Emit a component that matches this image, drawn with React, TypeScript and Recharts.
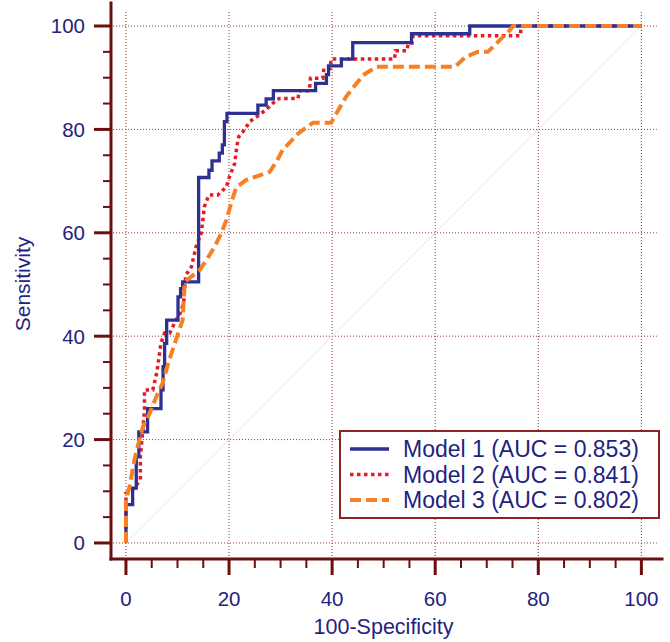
import React from 'react';
import {
  LineChart,
  Line,
  XAxis,
  YAxis,
  ReferenceLine,
  Legend
} from 'recharts';

// ROC coordinates (100-Specificity, Sensitivity)
const model1Fpr = [0, 0, 1.3, 1.3, 2.0, 2.0, 2.5, 2.5, 4.2, 4.2, 6.8, 6.8, 7.2, 7.2, 7.5, 7.5, 7.9, 7.9, 10.1, 10.1, 10.6, 10.6, 11.0, 11.0, 14.1, 14.1, 16.1, 16.1, 16.7, 16.7, 18.1, 18.1, 18.7, 18.7, 19.1, 19.1, 19.6, 19.6, 25.6, 25.6, 27.2, 27.2, 28.6, 28.6, 36.8, 36.8, 38.9, 38.9, 39.3, 39.3, 41.8, 41.8, 44.0, 44.0, 55.4, 55.4, 66.7, 66.7, 100];
const model1Tpr = [0, 7.4, 7.4, 10.6, 10.6, 16.7, 16.7, 21.5, 21.5, 26.0, 26.0, 29.6, 29.6, 34.1, 34.1, 38.6, 38.6, 43.1, 43.1, 47.6, 47.6, 49.2, 49.2, 50.5, 50.5, 70.7, 70.7, 72.1, 72.1, 73.9, 73.9, 75.4, 75.4, 77.0, 77.0, 81.5, 81.5, 83.1, 83.1, 84.7, 84.7, 85.9, 85.9, 87.5, 87.5, 88.9, 88.9, 90.6, 90.6, 92.3, 92.3, 93.6, 93.6, 96.8, 96.8, 98.5, 98.5, 100, 100];

const model2Fpr = [0, 0, 1.5, 2.8, 2.8, 3.2, 3.6, 3.6, 5.2, 6.0, 6.8, 7.5, 8.5, 9.7, 10.5, 11.2, 11.6, 12.7, 13.6, 14.6, 15.0, 15.2, 16.1, 17.8, 19.5, 20.1, 21.1, 21.5, 21.9, 23.0, 24.0, 25.9, 27.5, 29.2, 29.8, 33.4, 33.6, 35.6, 35.8, 38.2, 38.4, 39.6, 39.8, 52.1, 52.3, 54.5, 54.8, 55.5, 55.7, 76.5, 76.7, 100];
const model2Tpr = [0, 9.6, 10.5, 12.2, 16.7, 21.0, 25.7, 29.6, 29.6, 33.0, 38.7, 40.6, 40.6, 43.1, 44.4, 46.5, 51.8, 53.4, 57.3, 59.9, 63.1, 65.0, 67.3, 67.3, 68.9, 70.9, 73.4, 76.7, 78.6, 79.9, 81.5, 82.8, 84.1, 85.7, 86.0, 86.0, 87.5, 87.5, 89.9, 89.9, 91.8, 91.8, 93.6, 93.6, 95.2, 95.2, 96.7, 96.7, 98.1, 98.1, 100, 100];

const model3Fpr = [0, 0, 0.7, 1.65, 2.6, 3.3, 4.6, 5.9, 7.1, 8.4, 9.7, 11.0, 11.4, 14.3, 15.6, 17.2, 18.5, 19.5, 20.4, 21.4, 23.3, 27.9, 29.2, 30.4, 33.4, 36.3, 39.8, 42.7, 46.0, 48.6, 63.8, 66.0, 68.3, 70.2, 74.5, 75.1, 100];
const model3Tpr = [0, 8.3, 10.9, 16.1, 19.9, 22.5, 25.1, 28.3, 30.9, 35.4, 39.3, 43.1, 50.5, 52.8, 54.7, 57.3, 59.9, 62.5, 65.7, 68.8, 70.2, 71.8, 73.8, 76.0, 79.2, 81.3, 81.3, 86.3, 90.5, 92.1, 92.1, 94.1, 95.0, 95.0, 99.2, 100, 100];

const modelNames = ['Model 1 (AUC = 0.853)', 'Model 2 (AUC = 0.841)', 'Model 3 (AUC = 0.802)'];

const X_TICKS = [0, 5, 10, 15, 20, 25, 30, 35, 40, 45, 50, 55, 60, 65, 70, 75, 80, 85, 90, 95, 100];
const Y_TICKS = [0, 5, 10, 15, 20, 25, 30, 35, 40, 45, 50, 55, 60, 65, 70, 75, 80, 85, 90, 95, 100];
const GRID_VALUES = [0, 20, 40, 60, 80, 100];

const AXIS = '#6d0e0e';
const GRID = '#8e3434';
const TEXT = '#1f2380';

const toPoints = (xs: number[], ys: number[]) => xs.map((x, i) => ({ x, y: ys[i] }));

const SERIES = [
  { name: modelNames[0], data: toPoints(model1Fpr, model1Tpr), color: '#2e3192', width: 3.3, dash: undefined },
  { name: modelNames[1], data: toPoints(model2Fpr, model2Tpr), color: '#e31b23', width: 3.5, dash: '3.5 3.5' },
  { name: modelNames[2], data: toPoints(model3Fpr, model3Tpr), color: '#f58025', width: 4, dash: '11 5' }
];

const YTick = (props: any) => {
  const { x, y, payload } = props;
  const major = payload.value % 20 === 0;
  return (
    <g>
      <line x1={x - (major ? 17 : 8)} x2={x} y1={y} y2={y} stroke={AXIS} strokeWidth={major ? 3 : 2} />
      {major && (
        <text x={x - 26} y={y} dy="0.36em" textAnchor="end" fill={TEXT} fontSize={20.5}>
          {payload.value}
        </text>
      )}
    </g>
  );
};

const XTick = (props: any) => {
  const { x, y, payload } = props;
  const major = payload.value % 20 === 0;
  return (
    <g>
      <line x1={x} x2={x} y1={y} y2={y + (major ? 16 : 9)} stroke={AXIS} strokeWidth={major ? 3 : 2} />
      {major && (
        <text x={x} y={y + 40} dy="0.36em" textAnchor="middle" fill={TEXT} fontSize={20.5}>
          {payload.value}
        </text>
      )}
    </g>
  );
};

const LegendBox = () => (
  <div style={{ width: 321, height: 89, boxSizing: 'border-box', border: '2px solid #8b2323', background: '#fff', position: 'relative' }}>
    <svg width={321} height={89} style={{ position: 'absolute', left: -2, top: -2 }}>
      {SERIES.map((s, i) => {
        const cy = 19 + 25.5 * i;
        return (
          <g key={s.name}>
            <line x1={11} x2={50} y1={cy} y2={cy} stroke={s.color} strokeWidth={s.width} strokeDasharray={s.dash} />
            <text x={64} y={cy} dy="0.36em" fill={TEXT} fontSize={23}>{s.name}</text>
          </g>
        );
      })}
    </svg>
  </div>
);

export default function App() {
  return (
    <div style={{ position: 'absolute', left: 0, top: 0, width: 670, height: 642, background: '#fff', fontFamily: '"Liberation Sans", Arial, sans-serif' }}>
      <LineChart width={670} height={642} margin={{ top: 3, right: 8, bottom: 0, left: 0 }}>
        <XAxis
          type="number"
          dataKey="x"
          domain={[-2.9, 104]}
          ticks={X_TICKS}
          interval={0}
          height={83}
          tickSize={0}
          tickMargin={0}
          tickLine={false}
          tick={<XTick />}
          axisLine={{ stroke: AXIS, strokeWidth: 3, strokeLinecap: 'square' }}
          label={() => (
            <text x={383.5} y={626} dy="0.36em" textAnchor="middle" fill={TEXT} fontSize={21.5}>100-Specificity</text>
          )}
        />
        <YAxis
          type="number"
          dataKey="y"
          domain={[-3.1, 104.45]}
          ticks={Y_TICKS}
          interval={0}
          width={111}
          tickSize={0}
          tickMargin={0}
          tickLine={false}
          tick={<YTick />}
          axisLine={{ stroke: AXIS, strokeWidth: 3, strokeLinecap: 'square' }}
          label={() => (
            <text x={22} y={284} dy="0.36em" textAnchor="middle" fill={TEXT} fontSize={21} transform="rotate(-90 22 284)">Sensitivity</text>
          )}
        />
        {GRID_VALUES.map(v => (
          <ReferenceLine key={`v${v}`} segment={[{ x: v, y: -3.1 }, { x: v, y: 102.7 }]} stroke={GRID} strokeWidth={1} strokeDasharray="1 2" />
        ))}
        {GRID_VALUES.map(v => (
          <ReferenceLine key={`h${v}`} segment={[{ x: -2.5, y: v }, { x: 103, y: v }]} stroke={GRID} strokeWidth={1} strokeDasharray="1 2" />
        ))}
        <ReferenceLine segment={[{ x: 0, y: 0 }, { x: 100, y: 100 }]} stroke="#e2e2e2" strokeWidth={1} />
        <Line data={SERIES[1].data} dataKey="y" name={SERIES[1].name} type="linear" stroke={SERIES[1].color} strokeWidth={SERIES[1].width} strokeDasharray={SERIES[1].dash} dot={false} isAnimationActive={false} />
        <Line data={SERIES[0].data} dataKey="y" name={SERIES[0].name} type="linear" stroke={SERIES[0].color} strokeWidth={SERIES[0].width} dot={false} isAnimationActive={false} />
        <Line data={SERIES[2].data} dataKey="y" name={SERIES[2].name} type="linear" stroke={SERIES[2].color} strokeWidth={SERIES[2].width} strokeDasharray={SERIES[2].dash} dot={false} isAnimationActive={false} />
        <Legend
          layout="vertical"
          align="center"
          verticalAlign="middle"
          wrapperStyle={{ position: 'absolute', left: 339, top: 430, width: 321, height: 89 }}
          content={() => <LegendBox />}
        />
      </LineChart>
    </div>
  );
}
